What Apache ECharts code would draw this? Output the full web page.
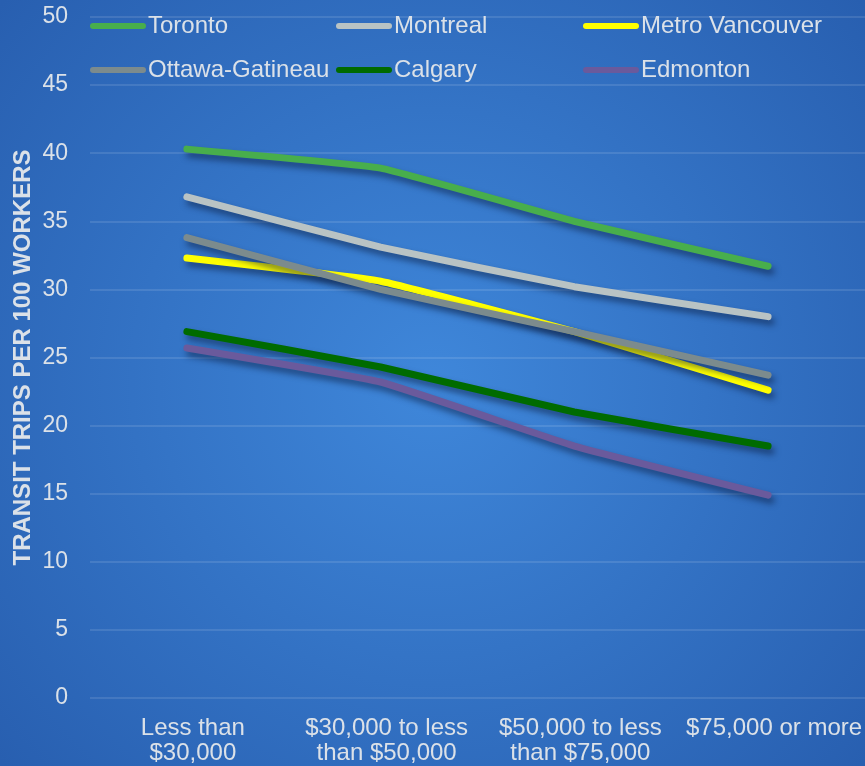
<!DOCTYPE html>
<html>
<head>
<meta charset="utf-8">
<script src="https://cdn.jsdelivr.net/npm/echarts@6.0.0/dist/echarts.min.js"></script>
<style>
  html, body { margin: 0; padding: 0; background: #2f6fc4; }
  #chart { width: 865px; height: 766px; }
</style>
</head>
<body>
<div id="chart"></div>
<script>
(function () {
  'use strict';

  // Income brackets (x axis)
  var incomeGroups = [
    'Less than\n$30,000',
    '$30,000 to less\nthan $50,000',
    '$50,000 to less\nthan $75,000',
    '$75,000 or more'
  ];

  // Transit trips per 100 workers
  var toronto = [40.3, 38.9, 35.0, 31.7];
  var montreal = [36.8, 33.1, 30.2, 28.0];
  var vancouver = [32.3, 30.6, 26.9, 22.6];
  var ottawa = [33.8, 30.0, 26.9, 23.7];
  var calgary = [26.9, 24.3, 21.0, 18.5];
  var edmonton = [25.7, 23.2, 18.5, 14.9];

  var cities = [
    { name: 'Toronto', values: toronto, color: '#48ae4c' },
    { name: 'Montreal', values: montreal, color: '#b9c3c4' },
    { name: 'Metro Vancouver', values: vancouver, color: '#ffff00' },
    { name: 'Ottawa-Gatineau', values: ottawa, color: '#7c8b8d' },
    { name: 'Calgary', values: calgary, color: '#006b00' },
    { name: 'Edmonton', values: edmonton, color: '#6a5a9c' }
  ];

  var textColor = '#dbe1e8';
  var fontFamily = '"Liberation Sans", Arial, sans-serif';

  // legend swatch: a thick line with round ends
  var swatch = 'path://M3,0 H53 A3,3 0 0 1 53,6 H3 A3,3 0 0 1 3,0 Z';

  function legendColumn(left, names) {
    return {
      orient: 'vertical',
      left: left,
      top: 14,
      padding: 0,
      itemWidth: 56,
      itemHeight: 7,
      itemGap: 20,
      icon: swatch,
      data: names,
      textStyle: {
        color: textColor,
        fontSize: 24,
        fontFamily: fontFamily,
        padding: [0, 0, 0, -3]
      }
    };
  }

  var chart = echarts.init(document.getElementById('chart'));

  var option = {
    animation: false,
    backgroundColor: {
      type: 'radial',
      x: 0.5, y: 0.5, r: 0.75,
      colorStops: [
        { offset: 0, color: '#3f87da' },
        { offset: 1, color: '#285fb0' }
      ]
    },
    legend: [
      legendColumn(90, ['Toronto', 'Ottawa-Gatineau']),
      legendColumn(336, ['Montreal', 'Calgary']),
      legendColumn(583, ['Metro Vancouver', 'Edmonton'])
    ],
    grid: {
      left: 90,
      right: -1,
      top: 17,
      bottom: 67,
      containLabel: false
    },
    xAxis: {
      type: 'category',
      data: incomeGroups,
      boundaryGap: true,
      axisLine: { show: false },
      axisTick: { show: false },
      axisLabel: {
        color: textColor,
        fontSize: 24,
        fontFamily: fontFamily,
        lineHeight: 25,
        margin: 18,
        padding: [0, 0, 0, 12],
        interval: 0
      }
    },
    yAxis: {
      type: 'value',
      min: 0,
      max: 50,
      interval: 5,
      name: 'TRANSIT TRIPS PER 100 WORKERS',
      nameLocation: 'middle',
      nameGap: 55,
      nameMoveOverlap: false,
      nameTextStyle: {
        color: textColor,
        fontSize: 24,
        fontWeight: 'bold',
        fontFamily: fontFamily
      },
      axisLine: { show: false },
      axisTick: { show: false },
      axisLabel: {
        color: textColor,
        fontSize: 23,
        fontFamily: fontFamily,
        margin: 22
      },
      splitLine: {
        lineStyle: { color: 'rgba(255,255,255,0.11)', width: 2 }
      }
    },
    series: cities.map(function (c) {
      return {
        name: c.name,
        type: 'line',
        data: c.values,
        smooth: 0.1,
        showSymbol: false,
        symbol: 'none',
        color: c.color,
        lineStyle: {
          color: c.color,
          width: 7,
          cap: 'round',
          join: 'round',
          shadowColor: 'rgba(10,25,60,0.55)',
          shadowBlur: 6,
          shadowOffsetX: 3,
          shadowOffsetY: 5
        }
      };
    })
  };

  chart.setOption(option);
})();
</script>
</body>
</html>
